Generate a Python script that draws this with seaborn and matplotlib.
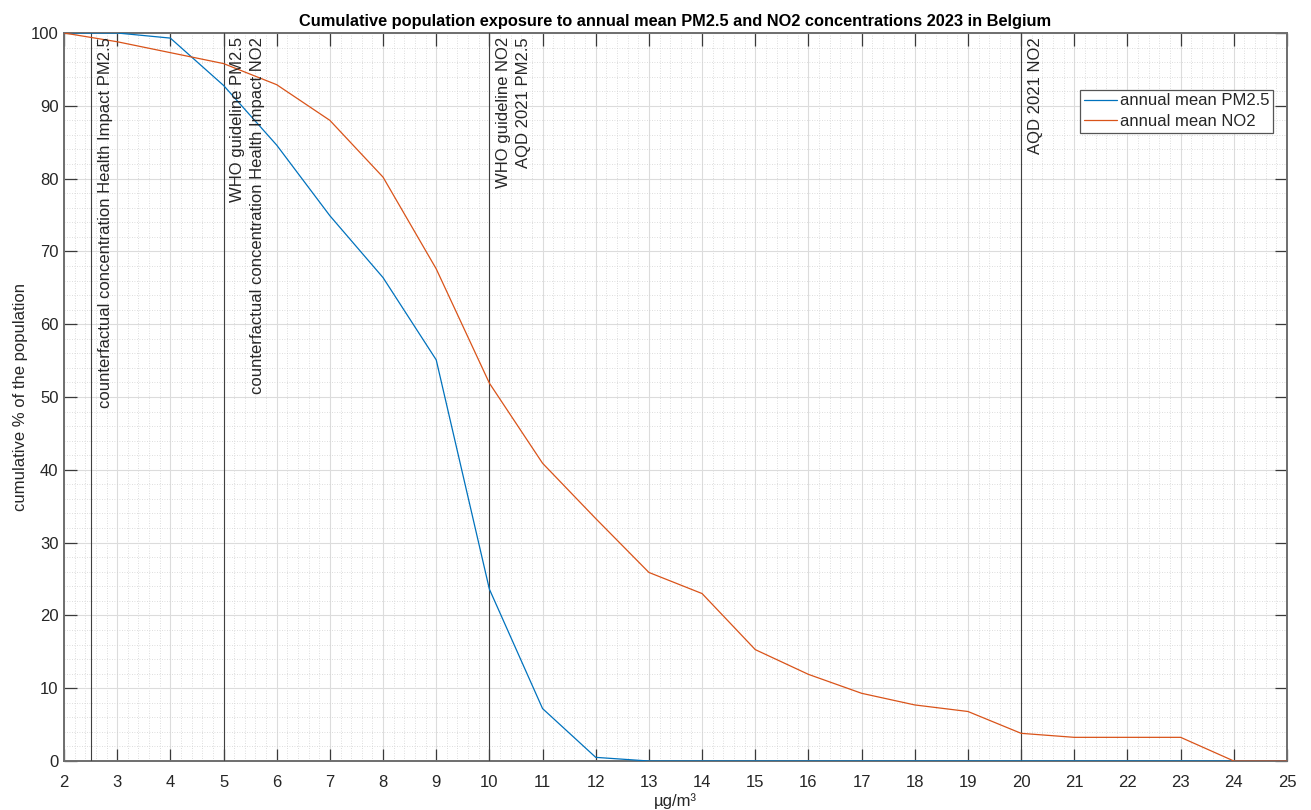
import matplotlib
matplotlib.use("Agg")
import matplotlib.pyplot as plt
import seaborn as sns
import pandas as pd
from matplotlib.ticker import MultipleLocator

# ---- data ----
conc = list(range(2, 26))
pm25 = [100, 100, 99.3, 92.8, 84.6, 74.9, 66.4, 55.1, 23.6, 7.2, 0.5,
        0, 0, 0, 0, 0, 0, 0, 0, 0, 0, 0, 0, 0]
no2 = [100, 98.8, 97.3, 95.8, 92.9, 88.0, 80.2, 67.6, 51.9, 40.9, 33.3, 25.9,
       23.0, 15.3, 11.9, 9.3, 7.7, 6.8, 3.8, 3.25, 3.25, 3.25, 0, 0]
series_names = ["annual mean PM2.5", "annual mean NO2"]
series_colors = ["#0072BD", "#D95319"]

vline_x = [2.5, 5, 10, 20]
vline_labels = [
    "counterfactual concentration Health Impact PM2.5",
    "WHO guideline PM2.5\ncounterfactual concentration Health Impact NO2",
    "WHO guideline NO2\nAQD 2021 PM2.5",
    "AQD 2021 NO2",
]

x_ticks = list(range(2, 26))
y_ticks = list(range(0, 101, 10))

title = "Cumulative population exposure to annual mean PM2.5 and NO2 concentrations 2023 in Belgium"
xlabel = "µg/m³"
ylabel = "cumulative % of the population"

# ---- style ----
sns.set_theme(style="white")
plt.rcParams["font.family"] = ["Liberation Sans", "DejaVu Sans"]
txt_color = "#262626"

fig = plt.figure(figsize=(13.11, 8.10), dpi=100)
ax = fig.add_axes([64 / 1311, 1 - 761 / 810, (1287 - 64) / 1311, (761 - 33) / 810])

df = pd.DataFrame({"conc": conc * 2,
                   "pct": pm25 + no2,
                   "series": [series_names[0]] * len(conc) + [series_names[1]] * len(conc)})

for name, col in zip(series_names, series_colors):
    sns.lineplot(data=df[df["series"] == name], x="conc", y="pct", color=col,
                 lw=0.9, label=name, ax=ax, zorder=4)

for xv, lab in zip(vline_x, vline_labels):
    ax.axvline(xv, color="#404040", lw=0.8, zorder=3)
    ax.annotate(lab, xy=(xv, 1), xycoords=ax.get_xaxis_transform(),
                xytext=(5, -3), textcoords="offset points",
                rotation=90, ha="left", va="top", multialignment="right",
                linespacing=1.4, fontsize=12, color=txt_color, zorder=5)

ax.set_xlim(2, 25)
ax.set_ylim(0, 100)
ax.set_xticks(x_ticks)
ax.set_yticks(y_ticks)
ax.xaxis.set_minor_locator(MultipleLocator(0.2))
ax.yaxis.set_minor_locator(MultipleLocator(2))

ax.grid(which="major", color="#dcdcdc", lw=0.8, ls="-", zorder=0)
ax.grid(which="minor", color="#d2d2d2", lw=0.6, ls=(0, (1, 2)), zorder=0)
ax.set_axisbelow(True)

ax.tick_params(which="major", direction="in", length=9, width=0.9,
               top=True, right=True, bottom=True, left=True,
               color="#3a3a3a", labelsize=12, labelcolor=txt_color)
ax.tick_params(axis="y", pad=4)
ax.tick_params(axis="x", pad=10)
ax.tick_params(which="minor", length=0)

for sp in ax.spines.values():
    sp.set_visible(True)
    sp.set_color("#6e6e6e")
    sp.set_linewidth(1.4)

ax.set_xlabel(xlabel, fontsize=12, color=txt_color, labelpad=2)
ax.set_ylabel(ylabel, fontsize=12, color=txt_color, labelpad=2)
ax.set_title(title, fontsize=11.8, fontweight="bold", color="#000000", pad=5)

leg = ax.legend(loc="upper right", bbox_to_anchor=(0.9886, 0.9217),
                borderaxespad=0, fancybox=False, framealpha=1,
                edgecolor="#555555", fontsize=12, handlelength=2.0,
                handletextpad=0.2, borderpad=0.2, labelspacing=0.35)
leg.get_frame().set_linewidth(0.9)
for t in leg.get_texts():
    t.set_color(txt_color)

fig.savefig("out.png", dpi=100)
